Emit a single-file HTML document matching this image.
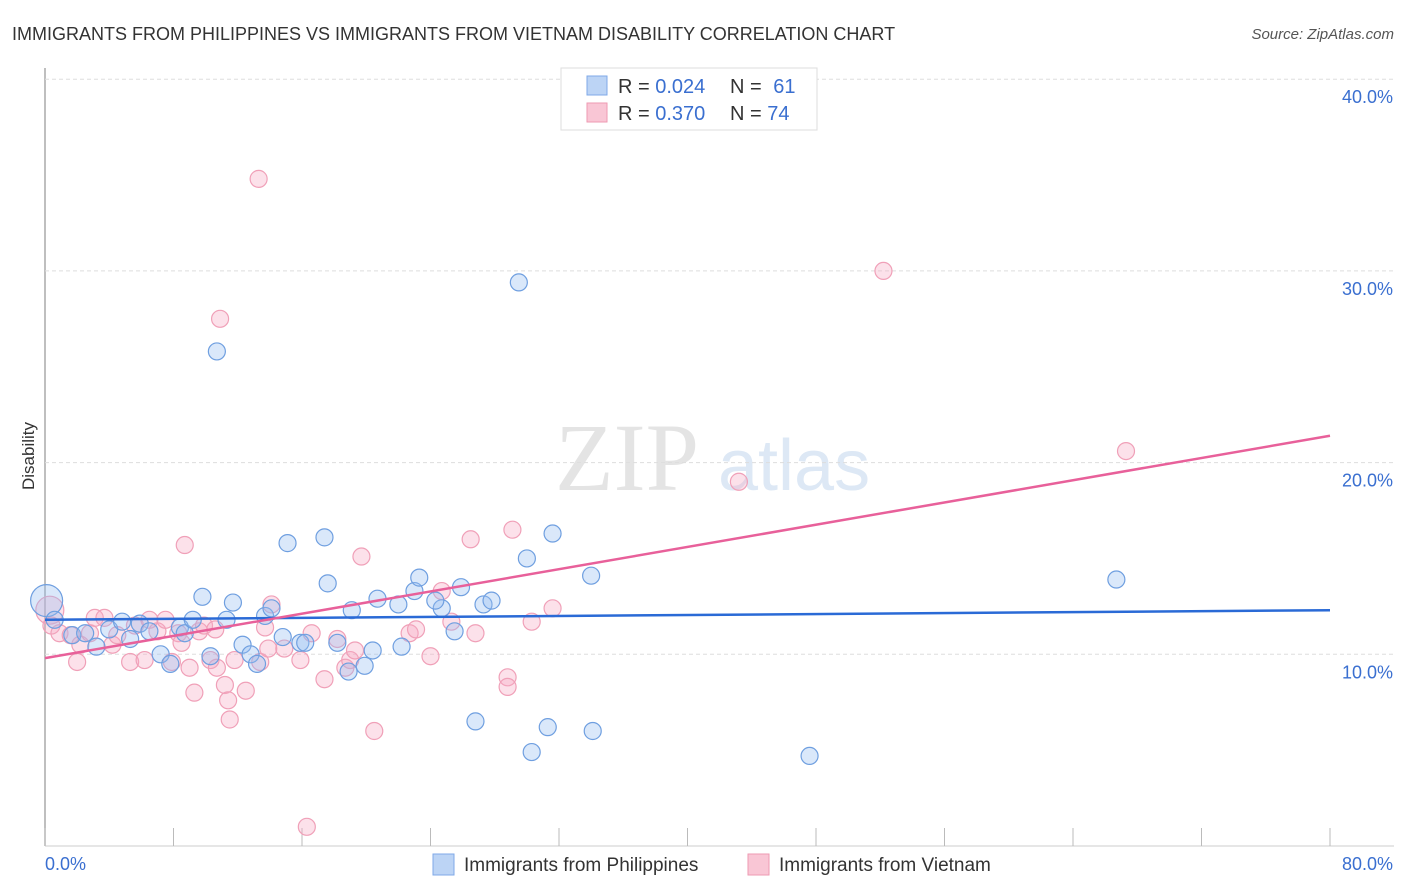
<!DOCTYPE html>
<html><head><meta charset="utf-8"><style>
body{margin:0;background:#fff;font-family:"Liberation Sans",sans-serif;}
#wrap{position:relative;width:1406px;height:892px;overflow:hidden;}
</style></head><body>
<div id="wrap">
<svg id="svg" width="1406" height="892" xmlns="http://www.w3.org/2000/svg">
<text x="12" y="40" font-size="18" fill="#333">IMMIGRANTS FROM PHILIPPINES VS IMMIGRANTS FROM VIETNAM DISABILITY CORRELATION CHART</text>
<text x="1394" y="39" font-size="15" fill="#555" font-style="italic" text-anchor="end">Source: ZipAtlas.com</text>
<text x="34" y="456" font-size="17" fill="#333" transform="rotate(-90 34 456)" text-anchor="middle">Disability</text>
<text x="555" y="490" font-size="96" fill="#e4e4e4" font-family="Liberation Serif,serif">ZIP</text>
<text x="718" y="490" font-size="72" fill="#dde8f5">atlas</text>
<g id="grid"></g><g id="pts"></g><g id="lines"></g>
<g>
<rect x="561" y="68" width="256" height="62" fill="#fff" stroke="#ddd"/>
<rect x="587" y="76" width="20" height="19" fill="#bcd4f5" stroke="#7fa9e8"/>
<rect x="587" y="103" width="20" height="19" fill="#f9c6d5" stroke="#ee9ab2"/>
<text x="618" y="93" font-size="20" fill="#333">R = <tspan fill="#3a6fd0">0.024</tspan></text>
<text x="730" y="93" font-size="20" fill="#333">N = <tspan fill="#3a6fd0" dx="6">61</tspan></text>
<text x="618" y="120" font-size="20" fill="#333">R = <tspan fill="#3a6fd0">0.370</tspan></text>
<text x="730" y="120" font-size="20" fill="#333">N = <tspan fill="#3a6fd0">74</tspan></text>
</g>
<g>
<rect x="433" y="854" width="21" height="21" fill="#bcd4f5" stroke="#7fa9e8"/>
<text x="464" y="871" font-size="19" fill="#333">Immigrants from Philippines</text>
<rect x="748" y="854" width="21" height="21" fill="#f9c6d5" stroke="#ee9ab2"/>
<text x="779" y="871" font-size="19" fill="#333">Immigrants from Vietnam</text>
</g>
</svg></div>
<script>
const yTicks=[10,20,30,40];
const xTickLabels=["0.0%","80.0%"];
const blueX=[0.1,0.6,1.7,2.5,3.2,4.0,4.8,5.3,5.9,6.5,7.2,7.8,8.4,8.7,9.2,9.8,10.3,10.7,11.3,11.7,12.3,12.8,13.2,13.7,14.1,14.8,15.1,15.9,16.2,17.4,17.6,18.2,18.9,19.1,19.9,20.4,20.7,22.0,22.2,23.0,23.3,24.7,24.3,25.5,25.9,26.8,27.3,27.8,29.5,30.0,30.3,31.3,31.6,34.0,34.1,47.6,66.7];
const blueY=[12.8,11.8,11.0,11.1,10.4,11.3,11.7,10.8,11.6,11.2,10.0,9.5,11.4,11.1,11.8,13.0,9.9,25.8,11.8,12.7,10.5,10.0,9.5,12.0,12.4,10.9,15.8,10.6,10.6,16.1,13.7,10.6,9.1,12.3,9.4,10.2,12.9,12.6,10.4,13.3,14.0,12.4,12.8,11.2,13.5,6.5,12.6,12.8,29.4,15.0,4.9,6.2,16.3,14.1,6.0,4.7,13.9];
const pinkX=[0.3,0.4,0.9,1.6,2.0,2.2,2.8,3.1,3.7,4.2,4.5,5.3,5.6,6.2,6.5,7.0,7.5,7.9,8.3,8.5,8.7,9.0,9.3,9.6,9.9,10.3,10.6,10.7,10.9,11.2,11.4,11.5,11.8,12.5,13.3,13.4,13.7,13.9,14.1,14.9,15.9,16.3,16.6,17.4,18.2,18.7,19.0,19.3,19.7,20.5,22.7,23.1,24.0,24.7,25.3,26.5,26.8,28.8,28.8,29.1,30.3,31.6,43.2,52.2,67.3];
const pinkY=[12.3,11.5,11.1,11.0,9.6,10.5,11.1,11.9,11.9,10.5,11.0,9.6,11.5,9.7,11.8,11.2,11.8,9.6,11.1,10.6,15.7,9.3,8.0,11.2,11.5,9.7,11.3,9.3,27.5,8.4,7.6,6.6,9.7,8.1,34.8,9.6,11.4,10.3,12.6,10.3,9.7,1.0,11.1,8.7,10.8,9.3,9.7,10.2,15.1,6.0,11.1,11.3,9.9,13.3,11.7,16.0,11.1,8.8,8.3,16.5,11.7,12.4,19.0,30.0,20.6];
const blueLine=[11.8,12.3];
const pinkLine=[9.8,21.4];
const X0=45,X1=1330,Y0=846,YS=19.17;
const sx=v=>X0+(X1-X0)*v/80, sy=v=>Y0-v*YS;
const NS="http://www.w3.org/2000/svg";
function mk(tag,attrs,parent){const e=document.createElementNS(NS,tag);for(const k in attrs)e.setAttribute(k,attrs[k]);parent.appendChild(e);return e;}
const grid=document.getElementById('grid');
let a=mk('line',{x1:X0,y1:68,x2:X0,y2:846,stroke:'#aaa','stroke-width':1.5},grid);


a=mk('line',{x1:X0,y1:846,x2:1394,y2:846,stroke:'#ccc','stroke-width':1},grid);


yTicks.forEach(t=>{
 const l=mk('line',{x1:X0,y1:sy(t),x2:1394,y2:sy(t),stroke:'#ddd','stroke-dasharray':'4 3'},grid);
 
 
 const tx=mk('text',{x:1393,y:sy(t)+24,'font-size':18,fill:'#3a6fd0','text-anchor':'end'},grid);
 tx.textContent=t.toFixed(1)+'%';
 
 
});
for(let i=0;i<=10;i++){const x=sx(i*8);
 const l=mk('line',{x1:x,y1:828,x2:x,y2:846,stroke:'#bbb'},grid);
 
 }
[[0,'start',45],[1,'end',1393]].forEach(([i,an,x])=>{
 const t=mk('text',{x:x,y:870,'font-size':18,fill:'#3a6fd0','text-anchor':an},grid);
 t.textContent=xTickLabels[i];
 
 });
const pts=document.getElementById('pts');
pinkX.forEach((v,i)=>{
 const c=mk('circle',{cx:sx(v),cy:sy(pinkY[i]),r:i==0?14:8.5,fill:'rgba(247,170,195,0.35)',stroke:'#f0a0b8','stroke-width':1.2},pts);
 
 });
blueX.forEach((v,i)=>{
 const c=mk('circle',{cx:sx(v),cy:sy(blueY[i]),r:i==0?16:8.5,fill:'rgba(150,190,240,0.35)',stroke:'#6f9fe0','stroke-width':1.2},pts);
 
 });
const lines=document.getElementById('lines');
let ln=mk('line',{x1:sx(0),y1:sy(blueLine[0]),x2:sx(80),y2:sy(blueLine[1]),stroke:'#2a6ad6','stroke-width':2.5},lines);


ln=mk('line',{x1:sx(0),y1:sy(pinkLine[0]),x2:sx(80),y2:sy(pinkLine[1]),stroke:'#e8609a','stroke-width':2.5},lines);


</script>
</body></html>
